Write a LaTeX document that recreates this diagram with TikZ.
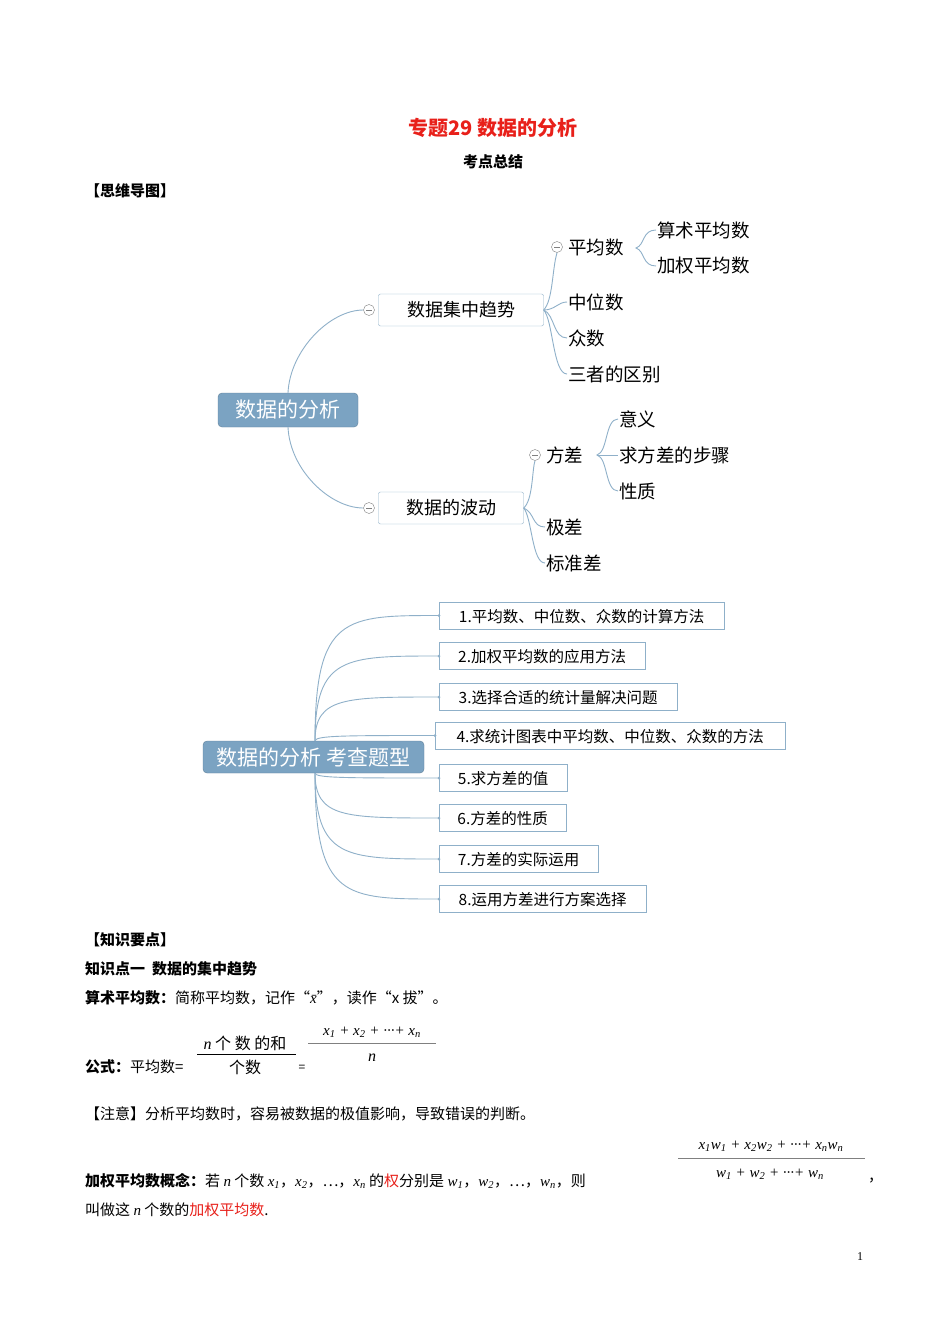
\documentclass[tikz,border=0pt]{standalone}
\usepackage{fontspec}
\setmainfont{Noto Sans CJK SC}
\newfontfamily\mathf{Liberation Serif}
\begin{document}
\begin{tikzpicture}[x=1pt,y=-1pt,
  lk/.style={draw=lnk,line width=0.9pt},
  rootbox/.style={fill=rootc,draw=rootc!80!black,rounded corners=4pt,text=white,font=\fontsize{21}{21}\selectfont,inner sep=0pt,minimum height=34pt},
  brbox/.style={draw=lnk,fill=white,rounded corners=2pt,font=\fontsize{18}{18}\selectfont,inner sep=0pt,minimum height=32pt},
  leaf/.style={font=\fontsize{18.5}{18.5}\selectfont,anchor=west,inner sep=1pt},
  minus/.style={circle,draw=gray,fill=white,minimum size=11pt,inner sep=0pt,path picture={\draw[gray] ([xshift=-3pt]path picture bounding box.center)--([xshift=3pt]path picture bounding box.center);}},
  item/.style={draw=lnk,fill=white,font=\fontsize{15.5}{15.5}\selectfont,anchor=west,inner ysep=0pt,inner xsep=17pt,align=left,minimum height=27pt,text depth=0pt},
  body/.style={font=\fontsize{15}{15}\selectfont,anchor=west,inner sep=0pt},
  dot/.style={circle,fill=lnk,inner sep=0pt,minimum size=3pt}]
\definecolor{rootc}{HTML}{7BA3C2}
\definecolor{lnk}{HTML}{8FB0C9}
\definecolor{tred}{HTML}{E8201A}
\useasboundingbox (0,0) rectangle (950,1344);
\fill[white] (0,0) rectangle (950,1344);
% header
\node[text=tred,font=\fontsize{20}{20}\selectfont\bfseries] (title) at (493,128) {专题29 数据的分析};
\node[font=\fontsize{15}{15}\selectfont\bfseries] (sub) at (493,162) {考点总结};
\node[body,font=\fontsize{15}{15}\selectfont\bfseries] (mm) at (85,191) {【思维导图】};
% mind map 1
\node[rootbox,minimum width=140pt] (root) at (288,410) {数据的分析};
\node[brbox,minimum width=165pt] (b1) at (461,310) {数据集中趋势};
\node[brbox,minimum width=145pt] (b2) at (451,508) {数据的波动};
\node[minus] (c1) at (369,310) {};
\node[minus] (c2) at (369,508) {};
\draw[lk] (root.north) .. controls (290,350) and (330,310) .. (c1.west);
\draw[lk] (root.south) .. controls (290,470) and (330,508) .. (c2.west);
\node[minus] (c3) at (557,247) {};
\node[leaf] (avg) at (567,247) {平均数};
\node[leaf] (a1) at (656,230) {算术平均数};
\node[leaf] (a2) at (656,266) {加权平均数};
\node[leaf] (med) at (567,302) {中位数};
\node[leaf] (mode) at (567,338) {众数};
\node[leaf] (diff) at (567,374) {三者的区别};
\draw[lk] (b1.east) .. controls (553,300) and (552,270) .. (c3.south);
\draw[lk] (b1.east) .. controls (555,310) and (558,302) .. (med.west);
\draw[lk] (b1.east) .. controls (555,315) and (553,338) .. (mode.west);
\draw[lk] (b1.east) .. controls (553,320) and (553,374) .. (diff.west);
\draw[lk] (a1.west) .. controls (642,230) and (645,245) .. (636,248) .. controls (645,251) and (642,266) .. (a2.west);
\node[minus] (c4) at (535,455) {};
\node[leaf] (var) at (545,455) {方差};
\node[leaf] (v1) at (618,419) {意义};
\node[leaf] (v2) at (618,455) {求方差的步骤};
\node[leaf] (v3) at (618,491) {性质};
\node[leaf] (rng) at (545,527) {极差};
\node[leaf] (sd) at (545,563) {标准差};
\draw[lk] (b2.east) .. controls (533,500) and (532,470) .. (c4.south);
\draw[lk] (b2.east) .. controls (535,513) and (532,527) .. (rng.west);
\draw[lk] (b2.east) .. controls (532,518) and (532,563) .. (sd.west);
\draw[lk] (v1.west) .. controls (605,419) and (608,452) .. (597,455) .. controls (608,458) and (605,491) .. (v3.west);
\draw[lk] (597,455) -- (v2.west);
% mind map 2
\node[rootbox,minimum width=221pt,minimum height=32pt] (r2) at (313.5,757) {数据的分析 考查题型};
\node[item,minimum width=285pt] (i1) at (439,615.5) {1.平均数、中位数、众数的计算方法};
\node[item,minimum width=206pt] (i2) at (439,656) {2.加权平均数的应用方法};
\node[item,minimum width=238pt] (i3) at (439,697) {3.选择合适的统计量解决问题};
\node[item,minimum width=350pt] (i4) at (435,735.5) {4.求统计图表中平均数、中位数、众数的方法};
\node[item,minimum width=128pt] (i5) at (439,778) {5.求方差的值};
\node[item,minimum width=127pt] (i6) at (439,818) {6.方差的性质};
\node[item,minimum width=159pt] (i7) at (439,859) {7.方差的实际运用};
\node[item,minimum width=207pt] (i8) at (439,899) {8.运用方差进行方案选择};
\coordinate (o2) at (315,741);
\coordinate (o3) at (315,773);
\coordinate (cx) at (345,0);
\foreach \i in {1,2,3,4}{\draw[lk] (o2) .. controls (o2 |- i\i.west) and (cx |- i\i.west) .. (i\i.west); \node[dot] at (i\i.west) {};}
\foreach \i in {5,6,7,8}{\draw[lk] (o3) .. controls (o3 |- i\i.west) and (cx |- i\i.west) .. (i\i.west); \node[dot] at (i\i.west) {};}
% knowledge text
\node[body,font=\fontsize{15}{15}\selectfont\bfseries] (k0) at (85,940) {【知识要点】};
\node[body,font=\fontsize{15}{15}\selectfont\bfseries] (k1) at (85,969) {知识点一\ \ 数据的集中趋势};
\node[body] (k2) at (85,998) {\textbf{算术平均数：}简称平均数，记作“{\mathf\itshape x̄}”，读作“x 拔”。};
\node[body] (k3) at (85,1067) {\textbf{公式：}平均数=};
\node[font=\fontsize{16}{16}\selectfont\itshape,inner sep=0pt] (f1) at (245,1043) {{\mathf n} 个 数 的和};
\draw[line width=0.8pt] (197,1054) -- (296,1054);
\node[font=\fontsize{16}{16}\selectfont\itshape,inner sep=0pt] (f2) at (245,1067) {个数};
\node[font=\fontsize{12}{12}\selectfont,inner sep=0pt] (eq) at (302,1068) {=};
\node[font=\mathf\fontsize{15}{15}\selectfont\itshape,inner sep=0pt] (f3) at (372,1032) {x\textsubscript{1} + x\textsubscript{2} + ···+ x\textsubscript{n}};
\draw[gray,line width=0.8pt] (308,1043) -- (436,1043);
\node[font=\mathf\fontsize{16}{16}\selectfont\itshape,inner sep=0pt] (f4) at (372,1058) {n};
\node[body] (k4) at (85,1114) {【注意】分析平均数时，容易被数据的极值影响，导致错误的判断。};
\node[font=\mathf\fontsize{15}{15}\selectfont\itshape,inner sep=0pt] (g1) at (771,1146) {x\textsubscript{1}w\textsubscript{1} + x\textsubscript{2}w\textsubscript{2} + ···+ x\textsubscript{n}w\textsubscript{n}};
\draw[gray,line width=0.8pt] (678,1158) -- (865,1158);
\node[font=\mathf\fontsize{15}{15}\selectfont\itshape,inner sep=0pt] (g2) at (770,1174) {w\textsubscript{1} + w\textsubscript{2} + ···+ w\textsubscript{n}};
\node[body] (k5) at (85,1181) {\textbf{加权平均数概念：}若 {\mathf\itshape n} 个数 {\mathf\itshape x\textsubscript{1}}，{\mathf\itshape x\textsubscript{2}}，…，{\mathf\itshape x\textsubscript{n}} 的\textcolor{tred}{权}分别是 {\mathf\itshape w\textsubscript{1}}，{\mathf\itshape w\textsubscript{2}}，…，{\mathf\itshape w\textsubscript{n}}，则};
\node[body] (k6) at (868,1181) {，};
\node[body] (k7) at (85,1210) {叫做这 {\mathf\itshape n} 个数的\textcolor{tred}{加权平均数}.};
\node[font=\mathf\fontsize{12}{12}\selectfont] (pg) at (860,1257) {1};
\end{tikzpicture}
\end{document}
